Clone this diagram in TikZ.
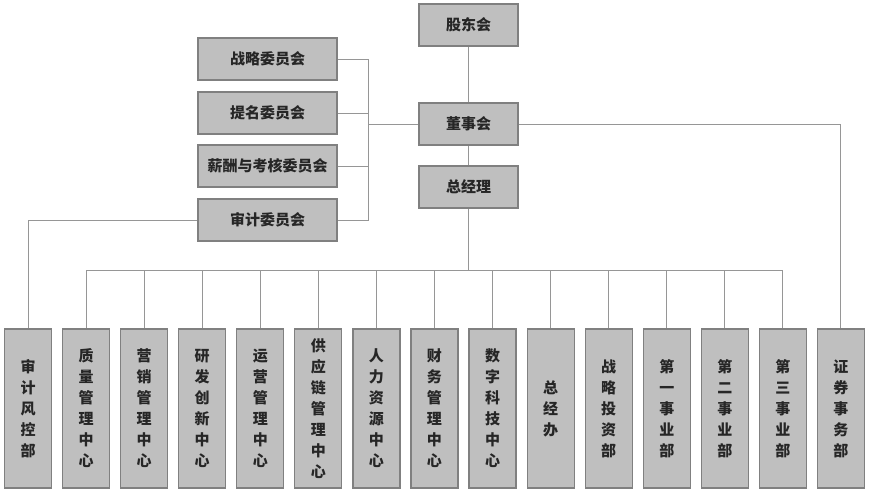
\documentclass[tikz,border=0pt]{standalone}
\usepackage{fontspec}
\setmainfont{Noto Sans CJK SC}
\usepackage{xcolor}
\usepackage{tikz}
\usetikzlibrary{positioning}

\definecolor{boxfill}{RGB}{191,191,191}
\definecolor{boxline}{RGB}{128,128,128}
\definecolor{linkgray}{RGB}{150,150,150}
\definecolor{txt}{RGB}{38,38,38}

\begin{document}
\begin{tikzpicture}[x=1pt,y=-1pt,
  box/.style={draw=boxline, fill=boxfill, line width=1.2pt, text=txt,
    font=\bfseries\fontsize{15}{21}\selectfont, inner sep=0pt, align=center},
  topbox/.style={box, minimum width=99pt, minimum height=42pt},
  cmtbox/.style={box, minimum width=139pt, minimum height=42pt},
  deptbox/.style={box, minimum width=47pt, minimum height=159pt},
  link/.style={draw=linkgray, line width=1pt}]
  \useasboundingbox (0,0) rectangle (870,491);

  % top of the chart
  \node[topbox] (gdh) at (468.5,25) {股东会};
  \node[topbox] (dsh) at (468.5,124) {董事会};
  \node[topbox] (zjl) at (468.5,187) {总经理};

  % committees
  \foreach \t/\y [count=\i] in {战略委员会/59, 提名委员会/113, 薪酬与考核委员会/166, 审计委员会/220}
    \node[cmtbox] (cmt\i) at (267.5,\y) {\t};

  % departments
  \foreach \t [count=\i from 0] in {
    {审\\计\\风\\控\\部}, {质\\量\\管\\理\\中\\心}, {营\\销\\管\\理\\中\\心},
    {研\\发\\创\\新\\中\\心}, {运\\营\\管\\理\\中\\心}, {供\\应\\链\\管\\理\\中\\心},
    {人\\力\\资\\源\\中\\心}, {财\\务\\管\\理\\中\\心}, {数\\字\\科\\技\\中\\心},
    {总\\经\\办}, {战\\略\\投\\资\\部}, {第\\一\\事\\业\\部},
    {第\\二\\事\\业\\部}, {第\\三\\事\\业\\部}, {证\\券\\事\\务\\部}}
    \node[deptbox] (d\i) at ({28+58.07*\i},408.5) {\t};

  % connectors
  \coordinate (jn) at (368,124);
  \coordinate (bus) at (468.5,270);
  \draw[link] (gdh) -- (dsh);
  \draw[link] (dsh) -- (zjl);
  \foreach \i in {1,...,4}
    \draw[link] (cmt\i.east) -| (jn);
  \draw[link] (jn) -- (dsh.west);
  \draw[link] (cmt4.west) -| (d0.north);
  \draw[link] (dsh.east) -| (d14.north);
  \draw[link] (zjl.south) -- (bus);
  \foreach \i in {1,...,13}
    \draw[link] (d\i.north) |- (bus);
\end{tikzpicture}
\end{document}
